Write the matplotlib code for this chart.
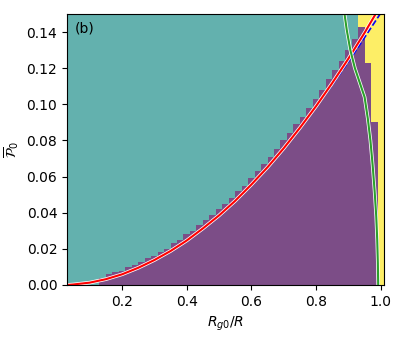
import numpy as np
import matplotlib
matplotlib.use('Agg')
import matplotlib.pyplot as plt
import matplotlib.patheffects as pe

# column centres of the phase map
col_x = [0.04, 0.06, 0.08, 0.10, 0.12, 0.14, 0.16, 0.18, 0.20, 0.22,
         0.24, 0.26, 0.28, 0.30, 0.32, 0.34, 0.36, 0.38, 0.40, 0.42,
         0.44, 0.46, 0.48, 0.50, 0.52, 0.54, 0.56, 0.58, 0.60, 0.62,
         0.64, 0.66, 0.68, 0.70, 0.72, 0.74, 0.76, 0.78, 0.80, 0.82,
         0.84, 0.86, 0.88, 0.90, 0.92, 0.94, 0.96, 0.98, 1.00]
# top of purple region in each column
purple_top = [0.0, 0.0, 0.0, 0.0, 0.0, 0.004, 0.006, 0.007, 0.008, 0.010,
              0.011, 0.013, 0.015, 0.016, 0.018, 0.020, 0.023, 0.025, 0.028, 0.030,
              0.033, 0.036, 0.039, 0.042, 0.045, 0.048, 0.052, 0.055, 0.059, 0.063,
              0.067, 0.071, 0.075, 0.080, 0.084, 0.089, 0.093, 0.098, 0.103, 0.108,
              0.114, 0.119, 0.124, 0.130, 0.136, 0.143, 0.123, 0.090, 0.0]
# bottom of yellow region in each column (1 = none)
yellow_bot = [1] * 45 + [0.143, 0.123, 0.090, 0.0]

red_x = [0.03, 0.05, 0.10, 0.15, 0.20, 0.25, 0.30, 0.35, 0.40, 0.45, 0.50,
         0.55, 0.60, 0.65, 0.70, 0.75, 0.80, 0.85, 0.90, 0.95, 0.99]
red_y = [0.0, 0.0003, 0.0013, 0.0032, 0.0059, 0.0095, 0.0138, 0.0188, 0.0246, 0.0313, 0.0385,
         0.0466, 0.0556, 0.0652, 0.0757, 0.0870, 0.0990, 0.1118, 0.1253, 0.1396, 0.1518]
blue_x = [0.03, 0.05, 0.10, 0.15, 0.20, 0.25, 0.30, 0.35, 0.40, 0.45, 0.50,
          0.55, 0.60, 0.65, 0.70, 0.75, 0.80, 0.85, 0.90, 0.95, 1.00]
blue_y = [0.0, 0.0003, 0.0013, 0.0032, 0.0059, 0.0095, 0.0138, 0.0188, 0.0246, 0.0313, 0.0385,
          0.0466, 0.0556, 0.0652, 0.0757, 0.0869, 0.0988, 0.1108, 0.1236, 0.1370, 0.1505]
green_x = [0.884, 0.895, 0.906, 0.920, 0.935, 0.950, 0.960, 0.968, 0.975,
           0.981, 0.986, 0.989, 0.991, 0.992]
green_y = [0.155, 0.141, 0.130, 0.120, 0.112, 0.104, 0.092, 0.080, 0.066,
           0.052, 0.038, 0.025, 0.012, 0.0]

x_edges = np.append(np.array(col_x) - 0.01, col_x[-1] + 0.01)
y_edges = np.linspace(0, 0.15, 151)
yc = 0.5 * (y_edges[:-1] + y_edges[1:])
Z = np.ones((len(yc), len(col_x)))
for i in range(len(col_x)):
    Z[yc < purple_top[i], i] = 0
    Z[yc >= yellow_bot[i], i] = 2

fig = plt.figure(figsize=(4.07, 3.39), dpi=100)
ax = fig.add_axes([0.1646, 0.1593, 0.7789, 0.7994])
ax.pcolormesh(x_edges, y_edges, Z, cmap='viridis', vmin=0, vmax=2, alpha=0.7,
              shading='flat', rasterized=True)

outline = [pe.Stroke(linewidth=2.6, foreground='white'), pe.Normal()]
ax.plot(blue_x, blue_y, 'b--', lw=1.2)
ax.plot(red_x, red_y, color='red', lw=1.5, path_effects=outline)
ax.plot(green_x, green_y, color='#2ca02c', lw=1.5, path_effects=outline)

ax.set_xlim(0.03, 1.01)
ax.set_ylim(0, 0.15)
ax.set_xticks([0.2, 0.4, 0.6, 0.8, 1.0])
ax.set_yticks(np.arange(0, 0.141, 0.02))
ax.set_xlabel(r'$R_{g0}/R$')
ax.set_ylabel(r'$\overline{\mathcal{P}}_0$')
ax.text(0.025, 0.945, '(b)', transform=ax.transAxes, va='center', fontsize=10)

plt.savefig('out.png', dpi=100)
plt.close()
